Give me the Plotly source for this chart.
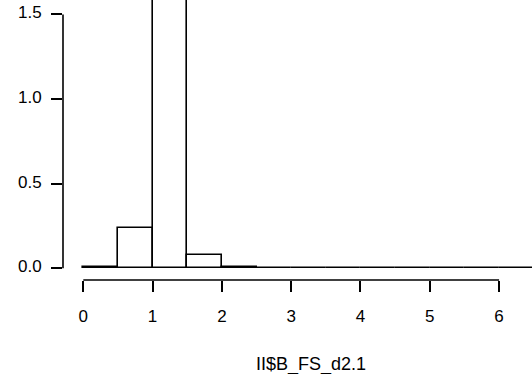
import plotly.graph_objects as go

# Histogram (density) of II$B_FS_d2.1, bin width 0.5
bin_left = [0.0, 0.5, 1.0, 1.5, 2.0, 2.5, 3.0, 3.5, 4.0, 4.5, 5.0, 5.5, 6.0, 6.5]
density = [0.008, 0.236, 1.669, 0.079, 0.008, 0.0, 0.0, 0.0, 0.0, 0.0, 0.0, 0.0, 0.0, 0.0]
bin_width = 0.5
x_ticks = [0, 1, 2, 3, 4, 5, 6]
y_ticks = [0.0, 0.5, 1.0, 1.5]
x_label = "II$B_FS_d2.1"

centers = [b + bin_width / 2 for b in bin_left]

FONT = dict(family="Liberation Sans, Arial, sans-serif", size=17, color="black")

fig = go.Figure()
fig.add_trace(go.Bar(
    x=centers, y=density, width=[bin_width] * len(centers),
    marker=dict(color="white", line=dict(color="black", width=1.6)),
    hoverinfo="skip", showlegend=False,
))

fig.update_layout(
    width=532, height=374,
    margin=dict(l=63, r=0, t=0, b=94, pad=0),
    paper_bgcolor="white", plot_bgcolor="white",
    font=FONT,
    bargap=0,
    xaxis=dict(
        range=[-0.293, 6.475], tickvals=x_ticks, ticktext=[str(v) for v in x_ticks],
        ticks="outside", ticklen=11, tickwidth=1.6, tickcolor="black",
        showgrid=False, zeroline=False, showline=False,
        ticklabelstandoff=10, tickfont=FONT,
    ),
    yaxis=dict(
        range=[-0.069, 1.585], tickvals=y_ticks, tickformat=".1f",
        ticks="outside", ticklen=11, tickwidth=1.6, tickcolor="black",
        showgrid=False, zeroline=False, showline=False,
        ticklabelstandoff=6, ticklabelshift=-2, tickfont=FONT,
    ),
    shapes=[
        dict(type="line", xref="paper", yref="y", x0=0, x1=0,
             y0=y_ticks[0], y1=y_ticks[-1], line=dict(color="black", width=1.6)),
        dict(type="line", xref="x", yref="paper", x0=x_ticks[0], x1=x_ticks[-1],
             y0=0, y1=0, line=dict(color="black", width=1.6)),
    ],
    annotations=[
        dict(text=x_label, xref="paper", yref="paper", x=0.529, y=-0.30,
             xanchor="center", yanchor="middle", showarrow=False,
             font=dict(family=FONT["family"], size=18, color="black")),
    ],
)

fig.write_html("out.html")
